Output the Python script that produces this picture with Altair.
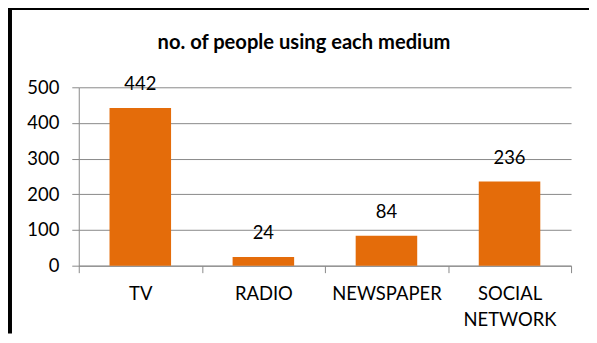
import altair as alt
import pandas as pd

# Data
media = ["TV", "RADIO", "NEWSPAPER", "SOCIAL NETWORK"]
counts = [442, 24, 84, 236]
y_ticks = [0, 100, 200, 300, 400, 500]
chart_title = "no. of people using each medium"

df = pd.DataFrame({"medium": media, "count": counts})

FONT = "Lato"
FS = 18.5
W, H = 494, 179
PAD = {"left": 71, "top": 79, "right": 18, "bottom": 68}
GRAY = "#8a8a8a"

base = alt.Chart(df).encode(
    x=alt.X(
        "medium:N",
        sort=media,
        title=None,
        scale=alt.Scale(paddingInner=0, paddingOuter=0),
        axis=alt.Axis(
            labelAngle=0,
            labelExpr="split(datum.label, ' ')",
            labelLineHeight=27,
            labelFont=FONT,
            labelFontSize=FS,
            labelColor="black",
            labelPadding=11.5,
            tickBand="extent",
            tickSize=7,
            tickColor=GRAY,
            domainColor=GRAY,
            grid=False,
        ),
    ),
    y=alt.Y(
        "count:Q",
        title=None,
        scale=alt.Scale(domain=[0, 500]),
        axis=alt.Axis(
            values=y_ticks,
            labelFont=FONT,
            labelFontSize=FS,
            labelColor="black",
            labelPadding=13,
            tickSize=7,
            tickColor=GRAY,
            domainColor=GRAY,
            gridColor=GRAY,
            gridOpacity=1,
        ),
    ),
)

bars = base.mark_bar(color="#E46C0A", width=alt.RelativeBandSize(0.5))
values = base.mark_text(
    dy=-24, baseline="middle", font=FONT, fontSize=FS, color="black"
).encode(text="count:Q")

one_row = alt.Data(values=[{"title": chart_title}])
title_text = alt.Chart(one_row).mark_text(
    font=FONT, fontSize=20.2, fontWeight="bold", color="black",
    align="center", baseline="alphabetic",
).encode(x=alt.value(226), y=alt.value(-38.5), text="title:N")

left_border = alt.Chart(one_row).mark_rule(color="black", strokeWidth=5).encode(
    x=alt.value(-69.5), y=alt.value(-PAD["top"]), y2=alt.value(H + PAD["bottom"])
)
top_border = alt.Chart(one_row).mark_rule(color="black", strokeWidth=3).encode(
    x=alt.value(-PAD["left"]), x2=alt.value(W + PAD["right"]), y=alt.value(-79)
)

chart = (
    alt.layer(bars, values, title_text, left_border, top_border)
    .properties(
        width=W,
        height=H,
        autosize=alt.AutoSizeParams(type="none"),
        padding=PAD,
    )
    .configure_view(stroke=None)
)

chart.save("out.html", embed_options={"renderer": "svg", "actions": False})
